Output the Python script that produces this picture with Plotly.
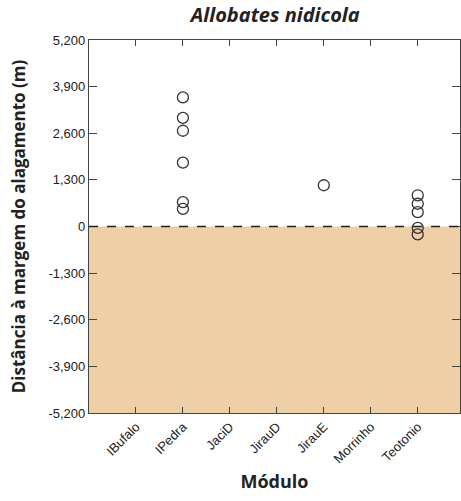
import plotly.graph_objects as go

categories = ["IBufalo", "IPedra", "JaciD", "JirauD", "JirauE", "Morrinho", "Teotonio"]
point_modules = ["IPedra"] * 6 + ["JirauE"] + ["Teotonio"] * 5
point_values = [3600, 3030, 2670, 1780, 680, 490, 1150, 870, 635, 400, -40, -220]
y_ticks = [5200, 3900, 2600, 1300, 0, -1300, -2600, -3900, -5200]
y_tick_labels = ["5,200", "3,900", "2,600", "1,300", "0", "-1,300", "-2,600", "-3,900", "-5,200"]

x_index = [categories.index(m) for m in point_modules]

fig = go.Figure()
fig.add_trace(go.Scatter(
    x=x_index, y=point_values, mode="markers",
    marker=dict(symbol="circle-open", size=11, color="#333333", line=dict(width=1.3)),
    showlegend=False, hoverinfo="skip",
))

fig.add_shape(type="rect", xref="x domain", yref="y", x0=0, x1=1, y0=-5200, y1=0,
              fillcolor="#EECFA6", line=dict(width=0), layer="below")
fig.add_shape(type="line", xref="x domain", yref="y", x0=0, x1=1, y0=0, y1=0,
              line=dict(color="#222222", width=1.5, dash="dash"))

fig.update_layout(
    width=461, height=501,
    margin=dict(l=89, r=1, t=40, b=88),
    paper_bgcolor="white", plot_bgcolor="white",
    title=dict(text="<b><i>Allobates nidicola</i></b>", x=0.597, xanchor="center",
               yref="container", y=0.984, yanchor="top", pad=dict(t=0, b=0),
               font=dict(family="Open Sans", size=20, color="#222222")),
    font=dict(family="Liberation Sans", color="#222222"),
)
fig.update_xaxes(
    range=[-1, 6.9], tickvals=list(range(len(categories))), ticktext=categories,
    tickangle=-45, ticks="inside", ticklen=6, tickcolor="#444444",
    showline=True, linecolor="#444444", linewidth=1.2, mirror="ticks",
    showgrid=False, zeroline=False, tickfont=dict(size=13, color="#222222"),
    title=dict(text="<b>Módulo</b>", font=dict(family="Open Sans", size=18, color="#222222"), standoff=10),
)
fig.update_yaxes(
    range=[-5200, 5200], tickvals=y_ticks, ticktext=y_tick_labels,
    ticks="inside", ticklen=8, tickcolor="#444444",
    showline=True, linecolor="#444444", linewidth=1.2, mirror="ticks",
    showgrid=False, zeroline=False, tickfont=dict(size=13, color="#222222"),
    title=dict(text="<b>Distância à margem do alagamento (m)</b>",
               font=dict(family="Open Sans", size=17, color="#222222"), standoff=18),
)

fig.write_html("out.html")
